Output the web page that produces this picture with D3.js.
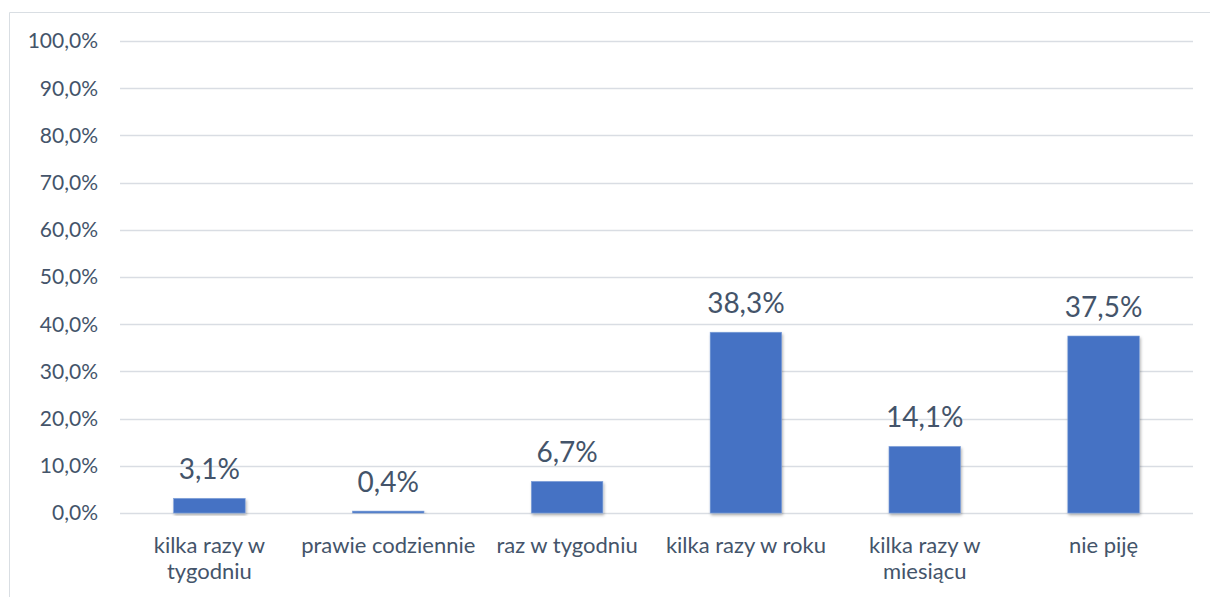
<!DOCTYPE html>
<html>
<head>
<meta charset="utf-8">
<script src="https://cdn.jsdelivr.net/npm/d3@7"></script>
<style>
  body { margin: 0; background: #fff; }
  svg text { font-family: Lato, "Open Sans", sans-serif; fill: #44546A; }
</style>
</head>
<body>
<svg></svg>
<script>
var categories = ["kilka razy w|tygodniu", "prawie codziennie", "raz w tygodniu", "kilka razy w roku", "kilka razy w|miesiącu", "nie piję"];
var values = [3.1, 0.4, 6.7, 38.3, 14.1, 37.5];
var yTicks = [0, 10, 20, 30, 40, 50, 60, 70, 80, 90, 100];

var width = 1210, height = 597;
var margin = {left: 120, right: 17, top: 41, bottom: 84};

var svg = d3.select("svg")
  .attr("width", width)
  .attr("height", height);

// chart frame (only top and left visible in the picture)
svg.append("path")
  .attr("d", "M9.5," + height + "V12.5H" + width)
  .attr("fill", "none")
  .attr("stroke", "#D9DEE3")
  .attr("stroke-width", 1);

var x = d3.scaleBand()
  .domain(categories)
  .range([margin.left, width - margin.right])
  .paddingInner(0.6)
  .paddingOuter(0.3);

var y = d3.scaleLinear()
  .domain([0, 100])
  .range([height - margin.bottom, margin.top]);

var fmt = v => d3.format(".1f")(v).replace(".", ",") + "%";

// grid
svg.append("g")
  .selectAll("line")
  .data(yTicks)
  .enter()
  .append("line")
    .attr("x1", margin.left)
    .attr("x2", width - margin.right)
    .attr("y1", d => Math.round(y(d)) + 0.5)
    .attr("y2", d => Math.round(y(d)) + 0.5)
    .attr("stroke", "#D9DDE3")
    .attr("stroke-width", 1.5);

// y labels
svg.append("g")
  .selectAll("text")
  .data(yTicks)
  .enter()
  .append("text")
    .attr("x", 98)
    .attr("y", d => y(d))
    .attr("dy", "0.35em")
    .attr("text-anchor", "end")
    .style("font-size", "21px")
    .text(d => fmt(d));

var defs = svg.append("defs");
var shadow = defs.append("filter").attr("id", "shd")
  .attr("x", "-20%").attr("y", "-20%").attr("width", "140%").attr("height", "140%");
shadow.append("feDropShadow")
  .attr("dx", 1).attr("dy", 2).attr("stdDeviation", 1.5)
  .attr("flood-color", "#000").attr("flood-opacity", 0.3);

var data = categories.map((c, i) => ({cat: c, value: values[i]}));

// bars
svg.append("g")
  .selectAll("rect")
  .data(data)
  .enter()
  .append("rect")
    .attr("x", d => x(d.cat))
    .attr("width", x.bandwidth())
    .attr("y", d => y(d.value))
    .attr("height", d => Math.max(1, y(0) - y(d.value)))
    .attr("fill", "#4472C4")
    .attr("stroke", "#7FA0DA")
    .attr("stroke-width", 0.6)
    .attr("filter", "url(#shd)");

// value labels
svg.append("g")
  .selectAll("text")
  .data(data)
  .enter()
  .append("text")
    .attr("x", d => x(d.cat) + x.bandwidth() / 2)
    .attr("y", d => y(d.value) - 19)
    .attr("text-anchor", "middle")
    .style("font-size", "28px")
    .text(d => fmt(d.value));

// category labels
var catG = svg.append("g")
  .selectAll("text")
  .data(categories)
  .enter()
  .append("text")
    .attr("x", d => x(d) + x.bandwidth() / 2)
    .attr("y", 553)
    .attr("text-anchor", "middle")
    .style("font-size", "22px");

catG.selectAll("tspan")
  .data(d => d.split("|").map(t => ({t: t, c: d})))
  .enter()
  .append("tspan")
    .attr("x", d => x(d.c) + x.bandwidth() / 2)
    .attr("dy", (d, i) => i === 0 ? 0 : 26)
    .text(d => d.t);
</script>
</body>
</html>
